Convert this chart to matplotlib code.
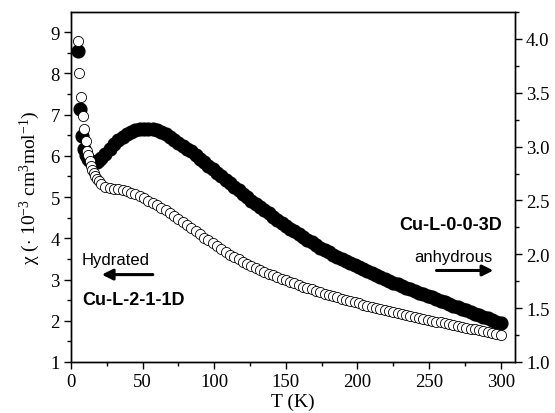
import matplotlib
matplotlib.use("Agg")
import matplotlib.pyplot as plt
from matplotlib.ticker import MultipleLocator

# ---------------- data ----------------
# Cu-L-2-1-1D (hydrated), open circles, left axis
T_hyd = [4.9, 5.6, 7.0, 8.2, 9.3, 10.3, 11.4, 12, 13, 14, 15, 16, 17, 18, 19.5, 21,
         24, 27, 30, 33, 36, 39, 42, 45, 48, 51, 54, 57, 60, 63, 66, 69, 72, 75, 78,
         81, 84, 87, 90, 93, 96, 99, 102, 105, 108, 111, 114, 117, 120, 123, 126,
         129, 132, 135, 138, 141, 144, 147, 150, 153, 156, 159, 162, 165, 168, 171,
         174, 177, 180, 183, 186, 189, 192, 195, 198, 201, 204, 207, 210, 213, 216,
         219, 222, 225, 228, 231, 234, 237, 240, 243, 246, 249, 252, 255, 258, 261,
         264, 267, 270, 273, 276, 279, 282, 285, 288, 291, 294, 297, 300]
chi_hyd = [8.79, 8.02, 7.42, 6.97, 6.65, 6.36, 6.12, 6.02, 5.88, 5.76, 5.66, 5.58,
           5.51, 5.45, 5.38, 5.32,
           5.25, 5.22, 5.20, 5.185, 5.17, 5.15, 5.11, 5.065, 5.02, 4.97, 4.915, 4.86,
           4.80, 4.74, 4.675, 4.605, 4.535, 4.465, 4.395, 4.32, 4.245, 4.17, 4.095,
           4.02, 3.95, 3.88, 3.81, 3.74, 3.67, 3.607, 3.547, 3.490, 3.435, 3.382,
           3.331, 3.282, 3.235, 3.190, 3.146, 3.104, 3.063, 3.023, 2.985, 2.945,
           2.906, 2.868, 2.831, 2.795, 2.760, 2.726, 2.693, 2.661, 2.629, 2.598,
           2.567, 2.537, 2.507, 2.478, 2.449, 2.420, 2.392, 2.364, 2.337, 2.310,
           2.283, 2.257, 2.232, 2.208, 2.185, 2.162, 2.139, 2.116, 2.093, 2.070,
           2.048, 2.026, 2.004, 1.982, 1.960, 1.938, 1.916, 1.895, 1.874, 1.853,
           1.832, 1.811, 1.790, 1.769, 1.748, 1.727, 1.706, 1.685, 1.664]

# Cu-L-0-0-3D (anhydrous), filled circles, right axis
T_anh = [4.7, 6.3, 7.5, 9, 10.5, 12, 13.5, 15, 16.5, 18, 19.5, 21,
         24, 27, 30, 33, 36, 39, 42, 45, 48, 51, 54, 57, 60, 63, 66, 69, 72, 75, 78,
         81, 84, 87, 90, 93, 96, 99, 102, 105, 108, 111, 114, 117, 120, 123, 126,
         129, 132, 135, 138, 141, 144, 147, 150, 153, 156, 159, 162, 165, 168, 171,
         174, 177, 180, 183, 186, 189, 192, 195, 198, 201, 204, 207, 210, 213, 216,
         219, 222, 225, 228, 231, 234, 237, 240, 243, 246, 249, 252, 255, 258, 261,
         264, 267, 270, 273, 276, 279, 282, 285, 288, 291, 294, 297, 300]
chi_anh = [3.89, 3.35, 3.10, 2.98, 2.92, 2.885, 2.865, 2.855, 2.855, 2.86, 2.875, 2.89,
           2.93, 2.975, 3.02, 3.06, 3.09, 3.115, 3.135, 3.15, 3.16, 3.165, 3.165,
           3.16, 3.15, 3.135, 3.115, 3.09, 3.065, 3.035, 3.005, 2.98, 2.955, 2.922,
           2.889, 2.856, 2.823, 2.790, 2.757, 2.724, 2.691, 2.658, 2.626, 2.594,
           2.562, 2.530, 2.499, 2.468, 2.438, 2.408, 2.379, 2.350, 2.322, 2.294,
           2.266, 2.239, 2.212, 2.186, 2.160, 2.135, 2.110, 2.085, 2.061, 2.040,
           2.019, 1.998, 1.978, 1.958, 1.938, 1.918, 1.898, 1.879, 1.860, 1.841,
           1.822, 1.804, 1.786, 1.768, 1.752, 1.736, 1.720, 1.704, 1.689, 1.674,
           1.659, 1.644, 1.629, 1.614, 1.599, 1.584, 1.569, 1.554, 1.539, 1.524,
           1.509, 1.494, 1.479, 1.464, 1.449, 1.434, 1.419, 1.404, 1.389, 1.374,
           1.359]

x_ticks = [0, 50, 100, 150, 200, 250, 300]
left_ticks = [1, 2, 3, 4, 5, 6, 7, 8, 9]
right_ticks = [1.0, 1.5, 2.0, 2.5, 3.0, 3.5, 4.0]

# ---------------- style ----------------
plt.rcParams['font.family'] = ['Liberation Serif', 'DejaVu Serif']
plt.rcParams['mathtext.fontset'] = 'custom'
plt.rcParams['mathtext.rm'] = 'Liberation Serif'
plt.rcParams['mathtext.it'] = 'Liberation Serif:italic'
plt.rcParams['axes.linewidth'] = 1.0

fig = plt.figure(figsize=(5.55, 4.14), dpi=100)
ax = fig.add_axes([71/555, 1-363/414, (515-71)/555, (363-13)/414])
ax2 = ax.twinx()

ax.plot(T_hyd, chi_hyd, linestyle='none', marker='o', markersize=7.3,
        markerfacecolor='white', markeredgecolor='black', markeredgewidth=0.6,
        zorder=3)
ax2.plot(T_anh, chi_anh, linestyle='none', marker='o', markersize=9.2,
         markerfacecolor='black', markeredgecolor='black', markeredgewidth=1.0,
         zorder=2)
ax.set_zorder(ax2.get_zorder() + 1)
ax.patch.set_visible(False)

ax.set_xlim(0, 310)
ax.set_ylim(1, 9.49)
ax2.set_ylim(1, 4.25)

ax.set_xticks(x_ticks)
ax.set_yticks(left_ticks)
ax2.set_yticks(right_ticks)
ax2.set_yticklabels([f"{v:.1f}" for v in right_ticks])
ax.xaxis.set_minor_locator(MultipleLocator(25))
ax.yaxis.set_minor_locator(MultipleLocator(0.5))
ax2.yaxis.set_minor_locator(MultipleLocator(0.25))

for a in (ax, ax2):
    a.tick_params(which='major', direction='out', length=5, width=1.0,
                  labelsize=13.5, pad=3)
    a.tick_params(which='minor', direction='out', length=3, width=1.0)
ax.tick_params(axis='x', which='both', top=False)
ax.tick_params(axis='y', which='both', right=False)
ax2.tick_params(axis='y', which='both', left=False)

ax.set_xlabel('T (K)', fontsize=14, labelpad=2)
ax.set_ylabel('χ ($\\cdot$ 10$^{-3}$ cm$^{3}$mol$^{-1}$)', fontsize=14,
              labelpad=6)

sans = ['Liberation Sans', 'DejaVu Sans']
ax.text(7.7, 3.48, 'Hydrated', family=sans, fontsize=12, ha='left', va='center')
ax.text(8.2, 2.51, 'Cu-L-2-1-1D', family=sans, fontsize=13, fontweight='bold',
        ha='left', va='center')
ax.text(301.2, 4.33, 'Cu-L-0-0-3D', family=sans, fontsize=13, fontweight='bold',
        ha='right', va='center')
ax.text(294.2, 3.57, 'anhydrous', family=sans, fontsize=12, ha='right', va='center')

arrow = dict(arrowstyle='-|>', lw=2.2, color='black', mutation_scale=16,
             shrinkA=0, shrinkB=0)
ax.annotate('', xy=(21.5, 3.12), xytext=(57.1, 3.12), arrowprops=arrow)
ax.annotate('', xy=(294.9, 3.22), xytext=(255.2, 3.22), arrowprops=arrow)

fig.savefig('out.png', dpi=100)
